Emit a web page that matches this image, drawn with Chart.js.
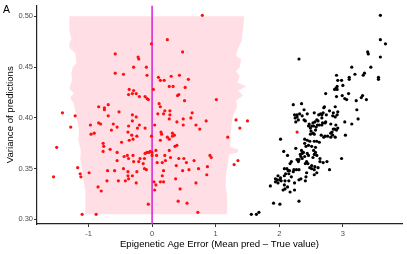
<!DOCTYPE html>
<html>
<head>
<meta charset="utf-8">
<script src="https://cdn.jsdelivr.net/npm/chart.js@4.4.0/dist/chart.umd.min.js"></script>
<style>
  body { margin: 0; background: #fff; }
  canvas { display: block; }
</style>
</head>
<body>
<canvas id="chart" width="407" height="254"></canvas>
<script>
// red points (inside the band)
const redX = [-0.58,-0.22,-0.21,-0.58,-0.45,-0.29,-0.09,-0.08,-0.36,-0.29,-0.37,-0.31,-0.25,-0.20,-0.11,-0.08,-0.06,-0.69,-0.84,-0.75,
  -0.75,-0.52,-1.41,-1.21,-0.31,-0.69,-0.25,-1.28,-0.97,-0.84,-0.81,-0.61,-0.55,-0.37,-0.31,-0.20,-0.23,-0.11,-0.64,-0.38,
  -0.91,-0.96,-0.32,-0.24,-0.36,-0.30,-0.48,-0.77,-0.76,-1.50,-0.66,-0.77,-0.55,-0.39,-0.30,-0.37,-0.44,-0.11,-0.08,-0.05,
  -0.19,-0.12,-0.29,-0.21,-0.55,-0.14,-0.45,-1.17,-0.70,-0.59,-0.38,-0.24,-0.12,-0.09,-0.99,-1.13,-1.12,-1.55,-0.38,-0.31,
  -0.37,-0.42,-0.53,-0.71,-0.25,-0.85,-0.80,-0.06,-1.10,-0.88,0.79,-0.01,0.24,0.48,0.10,0.13,0.19,0.30,0.43,0.57,
  0.27,0.33,0.52,0.02,0.40,0.42,0.51,1.01,0.11,0.13,0.20,0.28,0.09,0.18,0.28,0.63,1.32,1.50,1.38,0.85,
  0.75,0.69,0.61,0.49,0.49,0.39,0.27,0.04,0.14,0.15,-0.01,0.32,0.35,0.32,0.24,0.27,0.13,1.19,0.39,0.36,
  0.27,0.06,-0.03,0.00,0.07,0.00,0.20,0.29,0.42,0.50,0.66,0.91,0.93,0.21,0.16,0.08,0.54,0.38,1.35,1.29,
  0.73,0.87,0.58,0.48,0.18,0.16,0.86,0.37,0.03,0.06,0.13,0.18,0.69,0.04,0.44,0.41,0.55,0.72,2.28];
const redY = [0.463,0.460,0.458,0.444,0.443,0.450,0.450,0.442,0.428,0.427,0.423,0.424,0.424,0.421,0.421,0.419,0.418,0.413,0.411,0.410,
  0.408,0.406,0.405,0.402,0.403,0.402,0.401,0.391,0.393,0.395,0.394,0.394,0.391,0.392,0.397,0.393,0.390,0.390,0.388,0.386,
  0.385,0.384,0.383,0.382,0.378,0.379,0.376,0.375,0.372,0.371,0.369,0.367,0.366,0.363,0.363,0.360,0.362,0.365,0.366,0.366,
  0.360,0.360,0.357,0.357,0.358,0.355,0.350,0.351,0.348,0.348,0.347,0.347,0.350,0.349,0.346,0.345,0.342,0.342,0.343,0.343,
  0.340,0.338,0.338,0.338,0.336,0.332,0.328,0.315,0.305,0.305,0.501,0.473,0.477,0.465,0.440,0.437,0.437,0.441,0.442,0.438,
  0.431,0.431,0.430,0.428,0.422,0.423,0.417,0.418,0.414,0.411,0.407,0.407,0.404,0.404,0.403,0.405,0.398,0.397,0.390,0.397,
  0.389,0.393,0.400,0.399,0.393,0.396,0.399,0.393,0.386,0.384,0.382,0.385,0.383,0.382,0.381,0.379,0.378,0.381,0.373,0.372,
  0.368,0.368,0.367,0.366,0.363,0.363,0.363,0.361,0.360,0.360,0.358,0.363,0.361,0.358,0.356,0.356,0.356,0.353,0.358,0.354,
  0.350,0.352,0.349,0.348,0.348,0.343,0.344,0.340,0.337,0.334,0.337,0.337,0.336,0.329,0.330,0.318,0.316,0.307,0.386];

// black points
const blackX = [3.59,3.59,3.67,3.39,3.40,3.59,2.31,3.44,3.14,3.34,3.32,3.19,2.90,3.10,3.10,2.98,2.92,3.56,3.56,3.00,
  2.91,2.89,2.91,2.87,2.73,3.09,2.90,2.99,3.03,3.06,3.21,3.31,3.29,3.37,2.22,2.35,2.39,2.44,2.55,2.71,
  2.70,2.88,2.79,2.85,2.92,2.91,2.65,2.74,3.22,2.47,2.51,2.46,2.49,2.53,2.59,2.61,2.67,2.89,2.92,2.87,
  2.81,2.73,2.67,3.03,3.14,3.24,2.62,2.67,2.69,2.84,2.88,2.24,2.28,2.25,2.28,2.30,2.26,2.32,2.36,2.39,
  2.41,2.56,2.54,2.58,2.60,2.63,2.68,2.72,2.90,2.85,2.50,2.53,2.57,2.49,2.55,2.66,2.72,2.76,2.70,2.81,
  2.84,2.88,2.83,2.81,3.04,2.40,2.44,2.48,2.55,2.59,2.40,2.46,2.42,2.51,2.57,2.63,2.02,2.26,2.07,2.13,
  2.35,2.38,2.36,2.33,2.34,2.31,2.36,2.40,2.44,2.46,2.54,2.57,2.55,2.59,2.53,2.64,2.69,2.75,2.64,2.98,
  2.19,2.17,2.28,2.30,2.43,2.41,2.45,2.48,2.51,2.56,2.61,2.51,2.55,2.79,2.08,2.12,2.14,2.16,2.23,2.27,
  2.31,2.22,2.15,2.08,2.10,2.43,2.55,2.59,1.98,2.02,1.94,1.97,2.01,2.03,1.94,1.98,2.09,2.15,2.19,2.24,
  2.31,2.34,2.41,2.42,1.86,2.08,2.13,2.06,2.09,2.17,2.24,2.31,1.91,2.01,1.56,1.64,1.68];
const blackY = [0.501,0.477,0.473,0.465,0.463,0.460,0.458,0.450,0.450,0.444,0.442,0.443,0.442,0.440,0.438,0.437,0.437,0.440,0.438,0.432,
  0.431,0.429,0.428,0.428,0.424,0.424,0.421,0.422,0.419,0.418,0.417,0.422,0.420,0.418,0.413,0.414,0.408,0.404,0.405,0.411,
  0.410,0.411,0.407,0.405,0.406,0.403,0.404,0.403,0.408,0.394,0.392,0.392,0.390,0.395,0.398,0.397,0.400,0.393,0.390,0.389,
  0.394,0.396,0.393,0.396,0.394,0.399,0.403,0.403,0.405,0.402,0.401,0.403,0.403,0.400,0.401,0.398,0.396,0.404,0.402,0.398,
  0.397,0.396,0.392,0.391,0.393,0.393,0.395,0.395,0.388,0.389,0.387,0.385,0.388,0.384,0.384,0.383,0.382,0.382,0.381,0.381,
  0.383,0.381,0.386,0.385,0.383,0.379,0.378,0.377,0.377,0.377,0.375,0.373,0.372,0.372,0.371,0.376,0.379,0.370,0.367,0.363,
  0.368,0.366,0.365,0.364,0.362,0.359,0.360,0.362,0.365,0.363,0.368,0.366,0.364,0.363,0.361,0.360,0.356,0.357,0.357,0.360,
  0.357,0.355,0.359,0.357,0.357,0.355,0.355,0.351,0.353,0.352,0.351,0.350,0.349,0.349,0.350,0.350,0.348,0.348,0.349,0.349,
  0.349,0.347,0.345,0.343,0.345,0.346,0.344,0.346,0.343,0.341,0.340,0.339,0.339,0.338,0.337,0.336,0.338,0.338,0.342,0.336,
  0.339,0.340,0.338,0.342,0.333,0.334,0.332,0.329,0.330,0.327,0.329,0.318,0.316,0.315,0.305,0.305,0.307];

// pink band outline: left edge top->bottom, right edge bottom->top
const leftEdgeY = [0.500,0.485,0.478,0.474,0.469,0.464,0.454,0.450,0.444,0.437,0.429,0.424,0.420,0.414,0.407,0.398,0.388,0.378,0.368,0.359,0.349,0.339,0.329,0.320,0.305];
const leftEdgeX = [-1.30,-1.30,-1.27,-1.30,-1.30,-1.21,-1.19,-1.25,-1.27,-1.26,-1.30,-1.23,-1.29,-1.23,-1.21,-1.18,-1.15,-1.16,-1.12,-1.13,-1.10,-1.08,-1.05,-1.05,-1.05];
const rightEdgeY = [0.305,0.320,0.324,0.334,0.344,0.354,0.364,0.366,0.369,0.371,0.383,0.398,0.405,0.411,0.417,0.422,0.427,0.431,0.435,0.441,0.446,0.450,0.458,0.461,0.468,0.476,0.500];
const rightEdgeX = [1.19,1.18,1.18,1.15,1.16,1.19,1.21,1.35,1.35,1.24,1.23,1.26,1.29,1.34,1.32,1.43,1.35,1.48,1.34,1.38,1.32,1.38,1.40,1.32,1.35,1.41,1.45];

const xTicks = [-1, 0, 1, 2, 3];
const yTicks = [0.30, 0.35, 0.40, 0.45, 0.50];
const xMin = -1.81, xMax = 3.93;
const yMin = 0.2955, yMax = 0.5107;

Chart.defaults.font.family = "'Liberation Sans', Arial, sans-serif";

const redPoints = redX.map((x, i) => ({x: x, y: redY[i]}));
const blackPoints = blackX.map((x, i) => ({x: x, y: blackY[i]}));
const band = leftEdgeX.map((x, i) => ({x: x, y: leftEdgeY[i]}))
  .concat(rightEdgeX.map((x, i) => ({x: x, y: rightEdgeY[i]})));

const panelLabel = {
  id: 'panelLabel',
  afterDraw(chart) {
    const ctx = chart.ctx;
    ctx.save();
    ctx.font = "10.5px 'Liberation Sans', Arial, sans-serif";
    ctx.fillStyle = '#000';
    ctx.textBaseline = 'alphabetic';
    ctx.fillText('A', 3, 12.7);
    ctx.restore();
  }
};

new Chart(document.getElementById('chart'), {
  type: 'scatter',
  data: {
    datasets: [
      {
        data: redPoints,
        pointBackgroundColor: '#ff1010',
        pointBorderWidth: 0,
        pointRadius: 1.6,
        order: 1
      },
      {
        data: blackPoints,
        pointBackgroundColor: '#000',
        pointBorderWidth: 0,
        pointRadius: 1.6,
        order: 1
      },
      {
        type: 'line',
        data: [{x: 0, y: yMin}, {x: 0, y: yMax}],
        borderColor: '#d92ed9',
        borderWidth: 1.6,
        pointRadius: 0,
        fill: false,
        order: 2
      },
      {
        type: 'line',
        data: band,
        backgroundColor: 'rgba(255,192,203,0.5)',
        borderColor: 'transparent',
        borderWidth: 0,
        pointRadius: 0,
        tension: 0,
        fill: 'shape',
        order: 3
      }
    ]
  },
  options: {
    responsive: false,
    animation: false,
    devicePixelRatio: 1,
    layout: { padding: { left: 0, top: 4, right: 5, bottom: 0 } },
    plugins: { legend: { display: false }, tooltip: { enabled: false } },
    events: [],
    scales: {
      x: {
        type: 'linear',
        min: xMin,
        max: xMax,
        afterBuildTicks: s => { s.ticks = xTicks.map(v => ({value: v})); },
        afterFit: s => { s.height = 30; },
        grid: { drawOnChartArea: false, drawTicks: true, tickLength: 3, tickColor: '#333', tickWidth: 1 },
        border: { display: true, color: '#222', width: 1.2 },
        ticks: { color: '#4d4d4d', font: { size: 7.5 }, padding: 2, maxRotation: 0,
          callback: v => String(v) },
        title: { display: true, text: 'Epigenetic Age Error (Mean pred – True value)',
          color: '#000', font: { size: 9.6 }, padding: { top: 0, bottom: 3.8 } }
      },
      y: {
        type: 'linear',
        min: yMin,
        max: yMax,
        afterBuildTicks: s => { s.ticks = yTicks.map(v => ({value: v})); },
        afterFit: s => { s.width = 37; },
        grid: { drawOnChartArea: false, drawTicks: true, tickLength: 3, tickColor: '#333', tickWidth: 1 },
        border: { display: true, color: '#222', width: 1.2 },
        ticks: { color: '#4d4d4d', font: { size: 7.5 }, padding: 1,
          callback: v => v.toFixed(2) },
        title: { display: true, text: 'Variance of predictions',
          color: '#000', font: { size: 9.6 }, padding: { top: 4.3, bottom: 0 } }
      }
    }
  },
  plugins: [panelLabel]
});
</script>
</body>
</html>
